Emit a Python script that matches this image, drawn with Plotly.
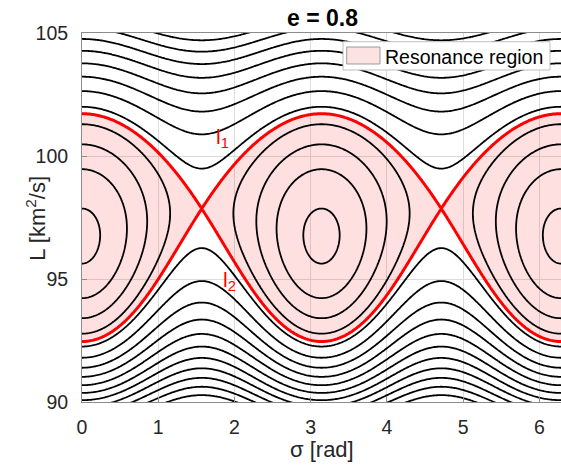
import numpy as np
import plotly.graph_objects as go

# Resonance Hamiltonian H(sigma, L) = K(L) + c(L) cos(2 sigma), x = L - L_REF
L_REF = 97.4
K_COEFFS = [0.272183, 1.0, -0.0232721, 0.00147692]            # x, x^2, x^3, x^4
C_COEFFS = [-11.5843, 1.16423, 0.0222209, -0.0118285]         # 1, x, x^2, x^3
LEVEL_START = -10.7015
LEVEL_STEP = 6.15251
N_LEVELS = 26

SIGMA_RANGE = [0, 2 * np.pi]
L_RANGE = [90, 105]
X_TICKS = [0, 1, 2, 3, 4, 5, 6]
Y_TICKS = [90, 95, 100, 105]


def ham(sig, L):
    x = L - L_REF
    kin = sum(c * x ** (i + 1) for i, c in enumerate(K_COEFFS))
    amp = sum(c * x ** i for i, c in enumerate(C_COEFFS))
    return kin + amp * np.cos(2 * sig)


# separatrix energy: saddle value along sigma = pi/2
xx = np.linspace(97.0, 99.0, 20001)
H_SEP = ham(np.pi / 2, xx).min()

sig = np.linspace(-0.05, 2 * np.pi + 0.05, 420)
Lg = np.linspace(88.5, 106.5, 380)
S, LL = np.meshgrid(sig, Lg)
Z = ham(S, LL)

fig = go.Figure()
# shaded libration (resonance) region: everything with H below the separatrix energy
fig.add_trace(go.Contour(x=sig, y=Lg, z=Z, showscale=False,
                         contours=dict(type='constraint', operation='>', value=H_SEP),
                         fillcolor='rgba(255,0,0,0.12)', line=dict(width=0), hoverinfo='skip'))
# level curves
fig.add_trace(go.Contour(x=sig, y=Lg, z=Z, showscale=False, autocontour=False,
                         contours=dict(start=LEVEL_START, end=LEVEL_START + (N_LEVELS - 1) * LEVEL_STEP,
                                       size=LEVEL_STEP, coloring='none'),
                         line=dict(color='black', width=1.8, smoothing=0), hoverinfo='skip'))
# separatrix
fig.add_trace(go.Contour(x=sig, y=Lg, z=Z, showscale=False, autocontour=False,
                         contours=dict(start=H_SEP, end=H_SEP, size=1, coloring='none'),
                         line=dict(color='red', width=3, smoothing=0), hoverinfo='skip'))

FONT = 'Liberation Sans, Arial, sans-serif'
axis_common = dict(showline=True, mirror=True, linecolor='#8c8c8c', linewidth=1,
                   showgrid=True, gridcolor='#dcdcdc', gridwidth=1, zeroline=False,
                   ticks='inside', ticklen=5, tickcolor='#8c8c8c',
                   tickfont=dict(family=FONT, size=19.5, color='#262626'))
fig.update_xaxes(range=SIGMA_RANGE, tickvals=X_TICKS, ticklabelstandoff=8, **axis_common)
fig.update_yaxes(range=L_RANGE, tickvals=Y_TICKS, ticklabelstandoff=9, **axis_common)

fig.update_layout(width=561, height=466, margin=dict(l=82, r=0, t=33, b=64),
                  plot_bgcolor='white', paper_bgcolor='white', showlegend=False)

fig.add_annotation(text='<b>e = 0.8</b>', xref='paper', yref='paper', x=0.502, y=1.042,
                   showarrow=False, font=dict(family=FONT, size=23, color='black'), yanchor='middle')
fig.add_annotation(text='σ [rad]', xref='paper', yref='paper', x=0.5, y=-0.128,
                   showarrow=False, font=dict(family=FONT, size=22, color='#262626'), yanchor='middle')
fig.add_annotation(text='L [km<sup>2</sup>/s]', xref='paper', yref='paper', x=-0.13, y=0.4986,
                   textangle=-90, showarrow=False, font=dict(family=FONT, size=22, color='#262626'))
fig.add_annotation(text='l<sub>1</sub>', x=1.84, y=100.75, showarrow=False,
                   font=dict(family=FONT, size=21, color='red'))
fig.add_annotation(text='l<sub>2</sub>', x=1.93, y=94.9, showarrow=False,
                   font=dict(family=FONT, size=21, color='red'))

# legend box
fig.add_shape(type='rect', xref='paper', yref='paper', x0=0.545, x1=0.977, y0=0.8997, y1=0.9764,
              fillcolor='white', line=dict(color='#bfbfbf', width=1), layer='above')
fig.add_shape(type='rect', xref='paper', yref='paper', x0=0.5526, x1=0.6221, y0=0.916, y1=0.962,
              fillcolor='#fde2e2', line=dict(color='#9a9a9a', width=1), layer='above')
fig.add_annotation(text='Resonance region', xref='paper', yref='paper', x=0.629, y=0.9363,
                   xanchor='left', yanchor='middle', showarrow=False,
                   font=dict(family=FONT, size=19.5, color='black'))

fig.write_html('out.html')
